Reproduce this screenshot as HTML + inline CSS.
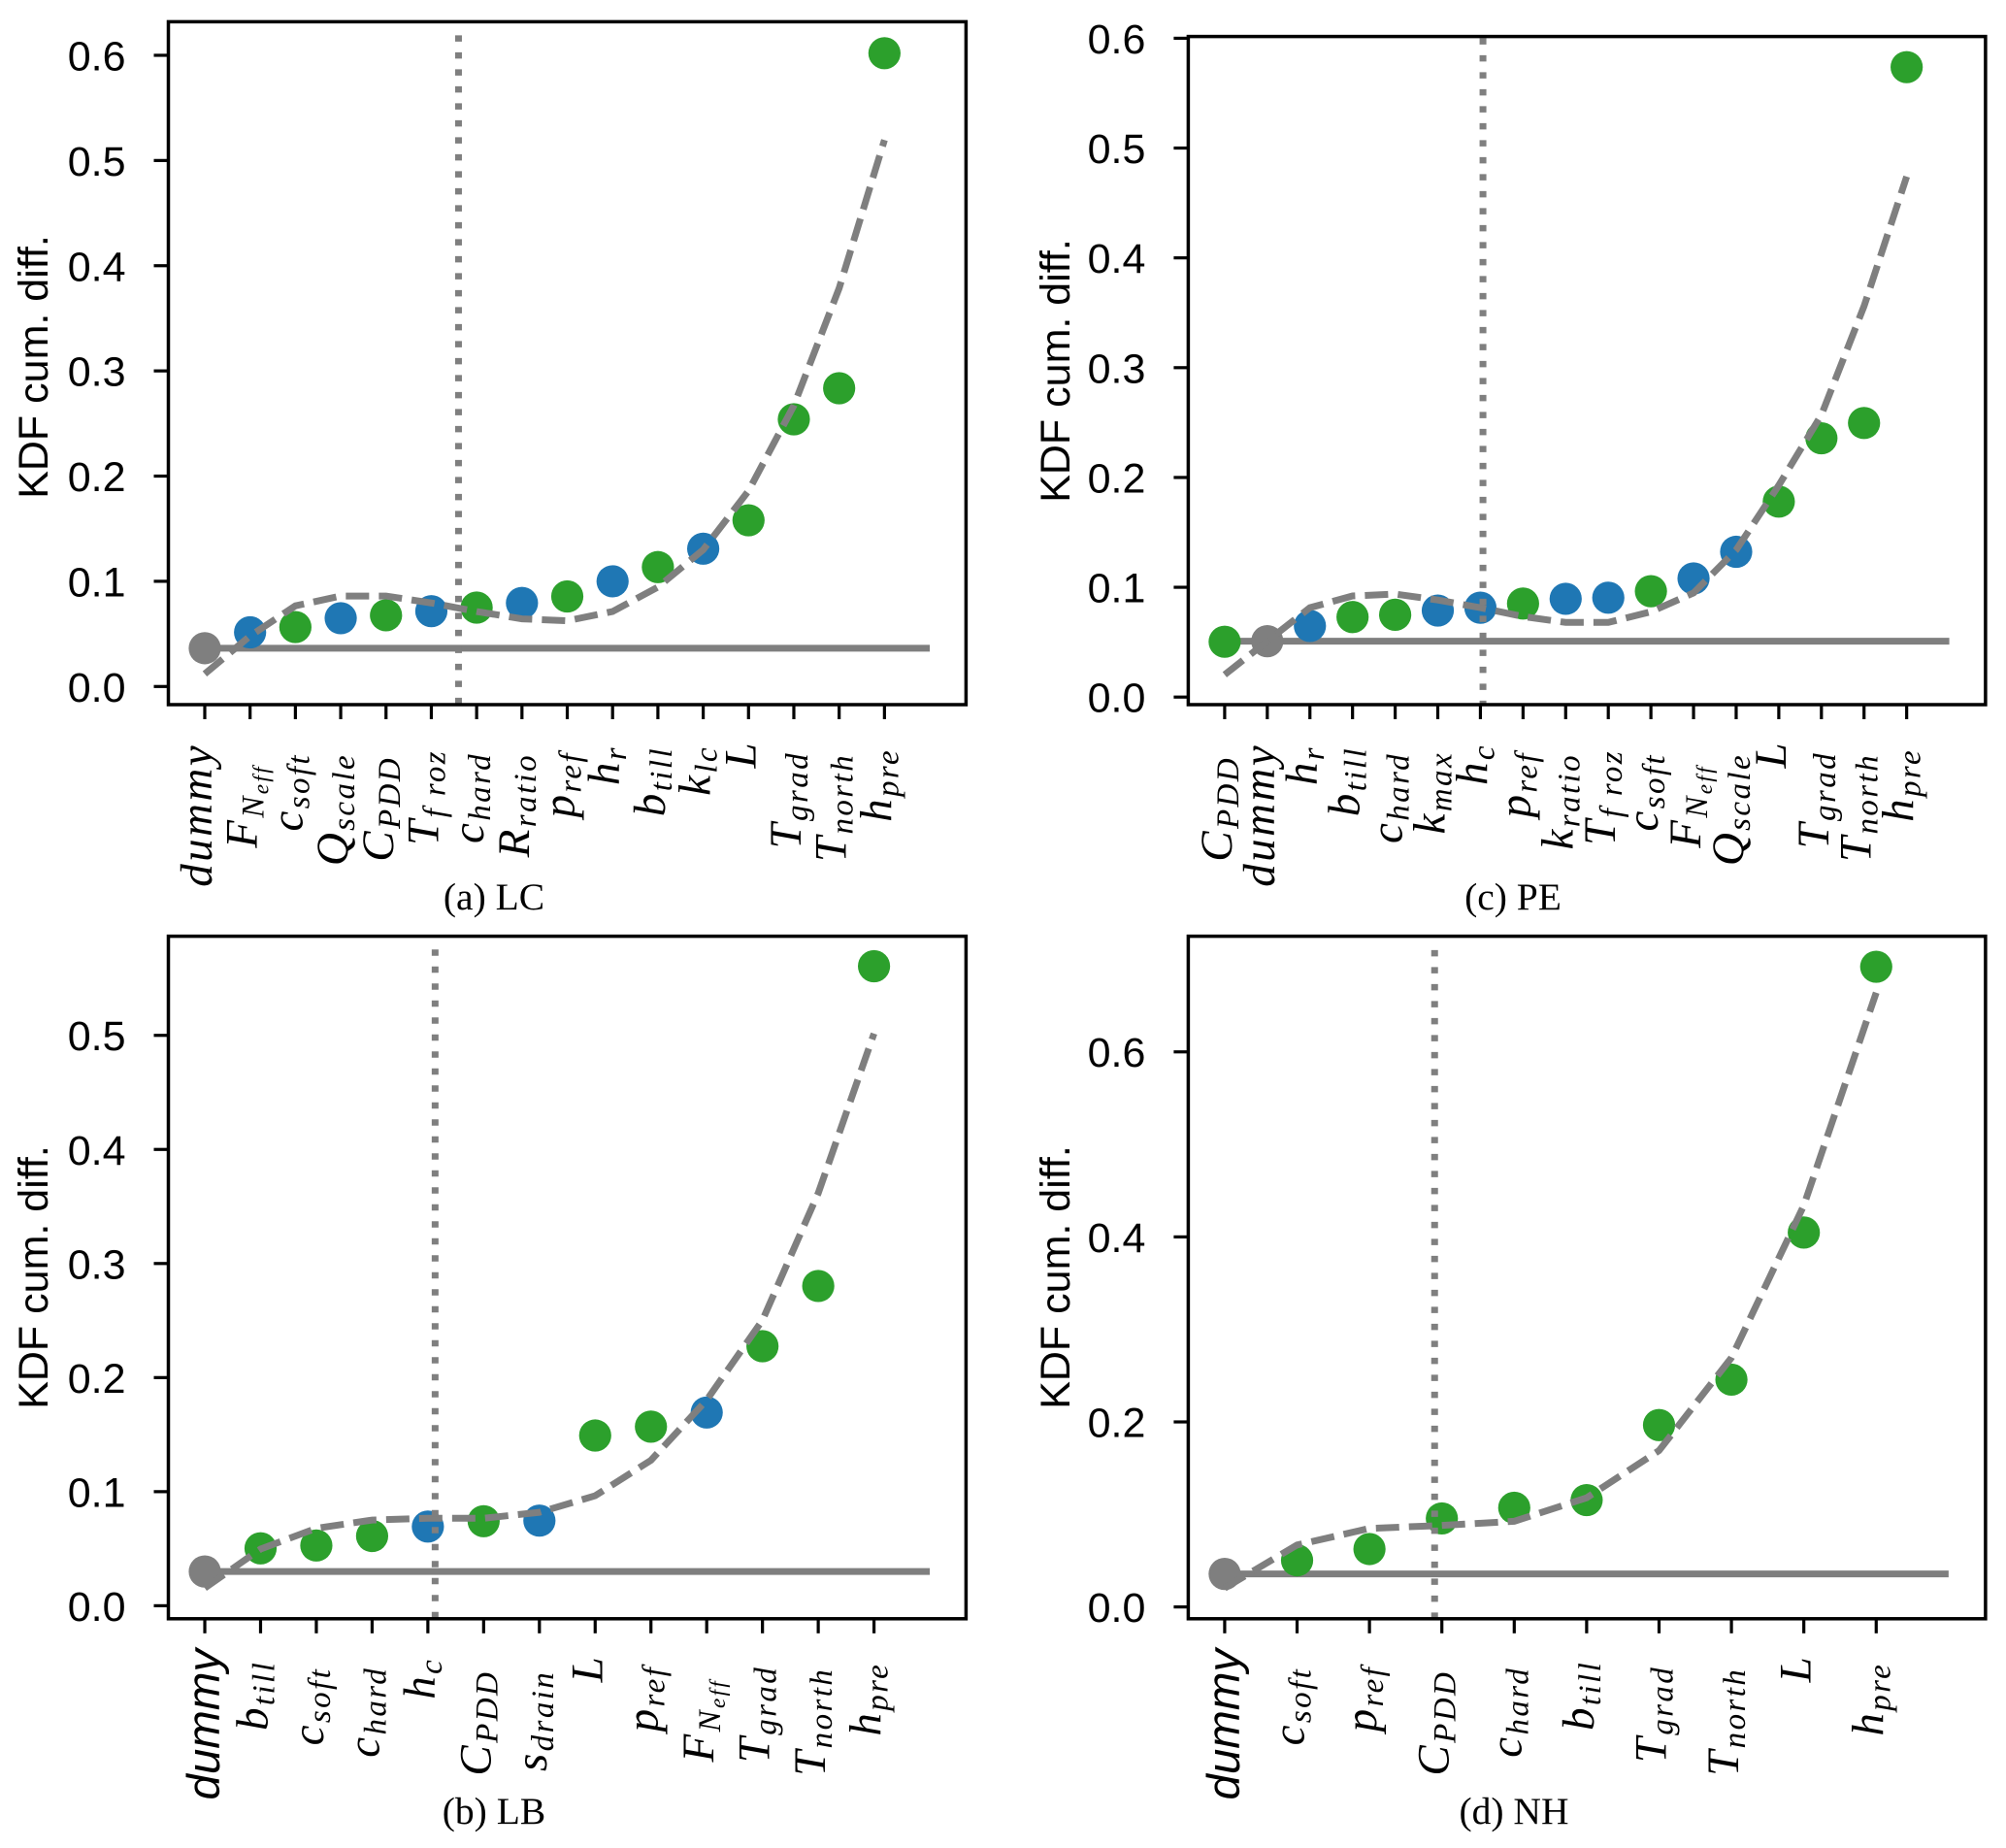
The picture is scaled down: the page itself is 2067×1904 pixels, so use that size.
<!DOCTYPE html>
<html>
<head>
<meta charset="utf-8">
<title>KDF cumulative difference panels</title>
<style>
html,body{margin:0;padding:0;background:#fff;}
svg{position:absolute;left:0;top:0;display:block;}
.num{font-family:"Liberation Sans",sans-serif;font-size:43px;fill:#000;}
.cap{font-family:"Liberation Serif",serif;font-size:39.5px;fill:#000;}
.math{font-family:"Liberation Serif",serif;font-style:italic;font-size:47px;letter-spacing:2.4px;fill:#000;}
.sansdummy{font-family:"Liberation Sans",sans-serif;font-style:italic;font-size:47.5px;fill:#000;}
</style>
</head>
<body>
<svg id="fig" xmlns="http://www.w3.org/2000/svg" width="2067" height="1904" viewBox="0 0 2067 1904"></svg>
<script>
// ---- Panel (a) LC ----
const lcCategories = ['dummy','F_N_eff','c_soft','Q_scale','C_PDD','T_f roz','c_hard','R_ratio','p_ref','h_r','b_till','k_lc','L','T_grad','T_north','h_pre'];
const lcValues = [0.0364,0.0515,0.0565,0.0649,0.0677,0.0716,0.075,0.0794,0.0856,0.1,0.1135,0.131,0.158,0.254,0.2835,0.602];
const lcGroups = ['n','b','g','b','g','b','g','b','g','b','g','b','g','g','g','g'];
const lcFit = [0.012,0.048,0.0767,0.086,0.086,0.0794,0.0713,0.0643,0.0625,0.0713,0.0945,0.13,0.186,0.267,0.3786,0.5195];
const lcTicks = [0,0.1,0.2,0.3,0.4,0.5,0.6];
const lcCut = [5.6];
const lcCutTop = [0.619];

// ---- Panel (b) LB ----
const lbCategories = ['dummy','b_till','c_soft','c_hard','h_c','C_PDD','s_drain','L','p_ref','F_N_eff','T_grad','T_north','h_pre'];
const lbValues = [0.03,0.0503,0.0528,0.0611,0.0694,0.0741,0.0746,0.1492,0.157,0.1694,0.2275,0.2803,0.5606];
const lbGroups = ['n','g','g','g','b','g','b','g','g','b','g','g','g'];
const lbFit = [0.0155,0.0497,0.0679,0.0751,0.0767,0.0767,0.0819,0.0964,0.1275,0.1803,0.2503,0.3617,0.5016];
const lbTicks = [0,0.1,0.2,0.3,0.4,0.5];
const lbCut = [4.13];
const lbCutTop = [0.5753];

// ---- Panel (c) PE ----
const peCategories = ['C_PDD','dummy','h_r','b_till','c_hard','k_max','h_c','p_ref','k_ratio','T_f roz','c_soft','F_N_eff','Q_scale','L','T_grad','T_north','h_pre'];
const peValues = [0.0504,0.0509,0.0648,0.0729,0.075,0.0788,0.0814,0.0852,0.0895,0.0905,0.0964,0.108,0.1323,0.178,0.2357,0.2496,0.5737];
const peGroups = ['g','n','b','g','g','b','b','g','b','b','g','b','b','g','g','g','g'];
const peFit = [0.0204,0.051,0.0814,0.0921,0.0938,0.0884,0.0814,0.0734,0.068,0.068,0.0777,0.0948,0.134,0.1929,0.257,0.356,0.474];
const peTicks = [0,0.1,0.2,0.3,0.4,0.5,0.6];
const peCut = [6.06];
const peCutTop = [0.6];

// ---- Panel (d) NH ----
const nhCategories = ['dummy','c_soft','p_ref','C_PDD','c_hard','b_till','T_grad','T_north','L','h_pre'];
const nhValues = [0.0357,0.0504,0.0626,0.0957,0.1072,0.1155,0.1966,0.2457,0.4047,0.692];
const nhGroups = ['n','g','g','g','g','g','g','g','g','g'];
const nhFit = [0.0204,0.067,0.0849,0.0881,0.0926,0.118,0.169,0.2694,0.434,0.664];
const nhTicks = [0,0.2,0.4,0.6];
const nhCut = [2.9];
const nhCutTop = [0.71];

const SVGNS = 'http://www.w3.org/2000/svg';
const fig = document.getElementById('fig');
const palette = {g:'#2ca02c', b:'#1f77b4', n:'#7f7f7f'};
// Distance from the axis line to the end of each rotated tick label.
const labelGap = {'dummy':40,'F_N_eff':62,'c_soft':50,'Q_scale':50,'C_PDD':53,'T_f roz':46,'c_hard':49,'R_ratio':50,'p_ref':48,'h_r':42,'b_till':43,'k_lc':42,'L':37,'T_grad':48,'T_north':50,'h_pre':45,'k_max':48,'h_c':40,'k_ratio':50,'s_drain':53};

function make(parent, tag, attrs) {
  const el = document.createElementNS(SVGNS, tag);
  for (const k in attrs) el.setAttribute(k, attrs[k]);
  parent.appendChild(el);
  return el;
}

function drawPanel(p) {
  const xOf = v => p.left + (v - p.xMin) / (p.xMax - p.xMin) * (p.right - p.left);
  const yOf = v => p.bottom - (v - p.yMin) / (p.yMax - p.yMin) * (p.bottom - p.top);

  const g = make(fig, 'g', {});
  
  

  // reference horizontal line at the dummy value
  const dummyValue = p.values[p.categories.indexOf('dummy')];
  const hline = make(g, 'line', {x1:xOf(0), x2:xOf(p.categories.length), y1:yOf(dummyValue), y2:yOf(dummyValue), stroke:'#7f7f7f', 'stroke-width':7});
  
  

  // points
  p.values.forEach((v, i) => {
    const dot = make(g, 'circle', {cx:xOf(i), cy:yOf(v), r:16.6, fill:palette[p.groups[i]]});
    
    
  });

  // fitted dashed curve
  const pts = p.fit.map((v, i) => xOf(i) + ',' + yOf(v)).join(' ');
  const fit = make(g, 'polyline', {points:pts, fill:'none', stroke:'#7f7f7f', 'stroke-width':7, 'stroke-dasharray':'24 10'});
  
  

  // dotted vertical cutoff
  const cut = make(g, 'line', {x1:xOf(p.cut[0]), x2:xOf(p.cut[0]), y1:yOf(p.cutTop[0]), y2:p.bottom, stroke:'#7f7f7f', 'stroke-width':7, 'stroke-dasharray':'6.5 11'});
  
  

  // frame
  const frame = make(g, 'rect', {x:p.left, y:p.top, width:p.right - p.left, height:p.bottom - p.top, fill:'none', stroke:'#000', 'stroke-width':3.5});
  
  

  // y ticks
  p.ticks.forEach(t => {
    const y = yOf(t);
    const tick = make(g, 'line', {x1:p.left - 15, x2:p.left, y1:y, y2:y, stroke:'#000', 'stroke-width':3.2});
    
    
    const lab = make(g, 'text', {x:p.left - 44, y:y + 15.5, 'text-anchor':'end', class:'num'});
    lab.textContent = t.toFixed(1);
    
    
  });

  // x ticks and rotated labels
  p.categories.forEach((c, i) => {
    const x = xOf(i);
    const tick = make(g, 'line', {x1:x, x2:x, y1:p.bottom, y2:p.bottom + 15, stroke:'#000', 'stroke-width':3.2});
    
    

    const sansDummy = c === 'dummy' && p.sansDummy;
    const gap = sansDummy ? 31 : labelGap[c];
    const ty = p.bottom + gap;
    const tx = x + (sansDummy ? 15 : 7);
    const lab = make(g, 'text', {transform:'translate(' + tx + ',' + ty + ') rotate(-90)', 'text-anchor':'end', class:sansDummy ? 'sansdummy' : 'math'});
    
    
    const parts = c.split('_');
    const main = make(lab, 'tspan', {});
    main.textContent = parts[0];
    if (parts[1]) {
      const sub = make(lab, 'tspan', {dy:7, 'font-size':33});
      sub.textContent = parts[1];
    }
    if (parts[2]) {
      const sub2 = make(lab, 'tspan', {dy:5, 'font-size':23});
      sub2.textContent = parts[2];
    }
  });

  // y axis title
  const yt = make(g, 'text', {transform:'translate(' + p.titleX + ',' + p.titleY + ') rotate(-90)', 'text-anchor':'middle', class:'num'});
  yt.textContent = 'KDF cum. diff.';
  
  

  // caption
  const cap = make(g, 'text', {x:p.capX, y:p.capY, 'text-anchor':'middle', class:'cap'});
  cap.textContent = p.caption;
  
  
}

drawPanel({id:'lc', caption:'(a) LC', categories:lcCategories, values:lcValues, groups:lcGroups, fit:lcFit, ticks:lcTicks, cut:lcCut, cutTop:lcCutTop,
  left:173.5, right:995.4, top:22.4, bottom:726, xMin:-0.803, xMax:16.8, yMin:-0.01725, yMax:0.6319, titleX:49, titleY:378, capX:509, capY:937, sansDummy:false});
drawPanel({id:'lb', caption:'(b) LB', categories:lbCategories, values:lbValues, groups:lbGroups, fit:lbFit, ticks:lbTicks, cut:lbCut, cutTop:lbCutTop,
  left:173.5, right:995.4, top:964.6, bottom:1667.8, xMin:-0.653, xMax:13.65, yMin:-0.01141, yMax:0.5869, titleX:49, titleY:1316, capX:509, capY:1879, sansDummy:true});
drawPanel({id:'pe', caption:'(c) PE', categories:peCategories, values:peValues, groups:peGroups, fit:peFit, ticks:peTicks, cut:peCut, cutTop:peCutTop,
  left:1224.4, right:2045.9, top:37.6, bottom:726, xMin:-0.854, xMax:17.85, yMin:-0.00689, yMax:0.6016, titleX:1102, titleY:382, capX:1559, capY:937, sansDummy:false});
drawPanel({id:'nh', caption:'(d) NH', categories:nhCategories, values:nhValues, groups:nhGroups, fit:nhFit, ticks:nhTicks, cut:nhCut, cutTop:nhCutTop,
  left:1224.4, right:2045.9, top:964.6, bottom:1667.8, xMin:-0.503, xMax:10.51, yMin:-0.01276, yMax:0.725, titleX:1102, titleY:1316, capX:1560, capY:1879, sansDummy:true});
</script>
</body>
</html>
